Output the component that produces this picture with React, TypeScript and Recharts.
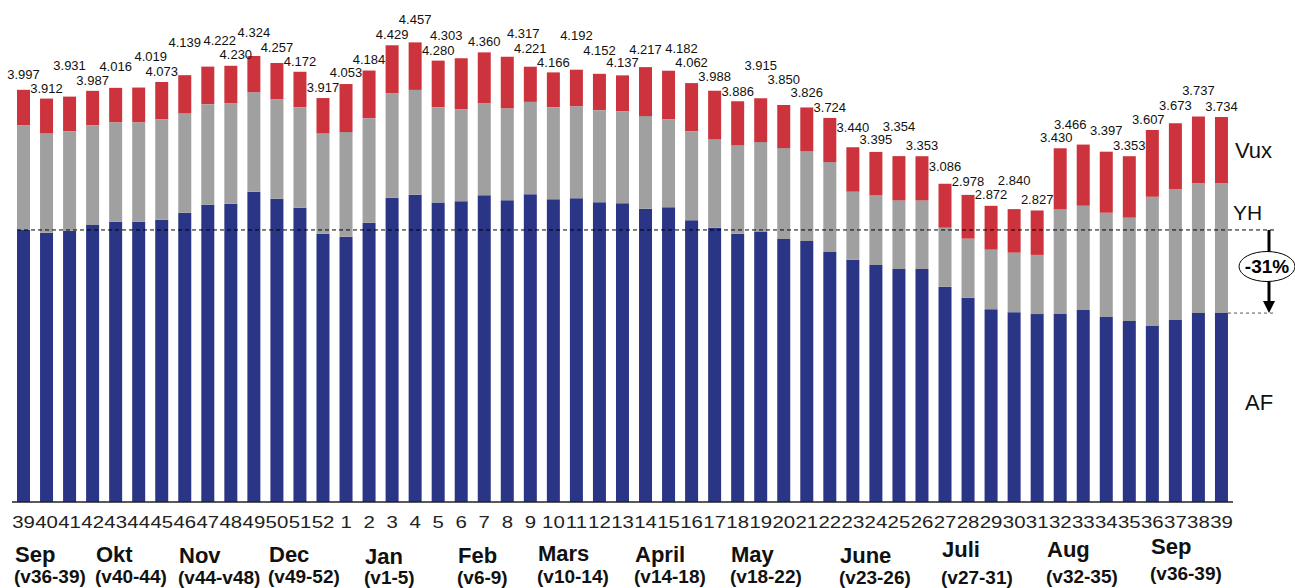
import React from "react";
import { BarChart, Bar, XAxis, YAxis, LabelList } from "recharts";

// week numbers, Sep (v39) to Sep (v39) next year
const weeks = [
  "39", "40", "41", "42", "43", "44", "45", "46", "47", "48", "49", "50", "51", "52",
  "1", "2", "3", "4", "5", "6", "7", "8", "9", "10", "11", "12", "13", "14", "15",
  "16", "17", "18", "19", "20", "21", "22", "23", "24", "25", "26", "27", "28", "29",
  "30", "31", "32", "33", "34", "35", "36", "37", "38", "39",
];

const af = [
  2.638, 2.612, 2.631, 2.686, 2.718, 2.718, 2.738, 2.805, 2.883, 2.893, 3.009, 2.941, 2.854, 2.602,
  2.573, 2.709, 2.951, 2.98, 2.904, 2.916, 2.974, 2.925, 2.984, 2.935, 2.945, 2.906, 2.896, 2.844,
  2.858, 2.732, 2.66, 2.602, 2.622, 2.551, 2.531, 2.425, 2.348, 2.299, 2.26, 2.26, 2.086, 1.98,
  1.87, 1.841, 1.822, 1.822, 1.861, 1.793, 1.754, 1.706, 1.764, 1.832, 1.832,
];

const yh = [
  1.016, 0.965, 0.965, 0.968, 0.965, 0.965, 0.974, 0.966, 0.975, 0.974, 0.965, 0.965, 0.975, 0.975,
  1.014, 1.013, 1.013, 1.016, 0.925, 0.893, 0.893, 0.894, 0.896, 0.894, 0.893, 0.894, 0.894, 0.898,
  0.854, 0.864, 0.859, 0.859, 0.868, 0.881, 0.872, 0.871, 0.661, 0.675, 0.665, 0.665, 0.574, 0.574,
  0.577, 0.577, 0.574, 1.016, 1.012, 1.012, 1.003, 1.254, 1.268, 1.258, 1.258,
];

const vux = [
  0.343, 0.335, 0.335, 0.333, 0.333, 0.336, 0.361, 0.368, 0.364, 0.363, 0.35, 0.351, 0.343, 0.34,
  0.466, 0.462, 0.465, 0.461, 0.451, 0.494, 0.493, 0.498, 0.341, 0.337, 0.354, 0.352, 0.347, 0.475,
  0.47, 0.466, 0.469, 0.425, 0.425, 0.418, 0.423, 0.428, 0.431, 0.421, 0.429, 0.428, 0.426, 0.424,
  0.425, 0.422, 0.431, 0.592, 0.593, 0.592, 0.596, 0.647, 0.641, 0.647, 0.644,
];

const totals = [
  3.997, 3.912, 3.931, 3.987, 4.016, 4.019, 4.073, 4.139, 4.222, 4.23, 4.324, 4.257, 4.172, 3.917,
  4.053, 4.184, 4.429, 4.457, 4.28, 4.303, 4.36, 4.317, 4.221, 4.166, 4.192, 4.152, 4.137, 4.217,
  4.182, 4.062, 3.988, 3.886, 3.915, 3.85, 3.826, 3.724, 3.44, 3.395, 3.354, 3.353, 3.086, 2.978,
  2.872, 2.84, 2.827, 3.43, 3.466, 3.397, 3.353, 3.607, 3.673, 3.737, 3.734,
];

const months = ["Sep", "Okt", "Nov", "Dec", "Jan", "Feb", "Mars", "April", "May", "June", "Juli", "Aug", "Sep"];
const monthWeeks = [
  "(v36-39)", "(v40-44)", "(v44-v48)", "(v49-52)", "(v1-5)", "(v6-9)", "(v10-14)",
  "(v14-18)", "(v18-22)", "(v23-26)", "(v27-31)", "(v32-35)", "(v36-39)",
];

// layout only
const labelRaise = [
  16, 10.7, 31, 10.7, 22, 31, 11, 33, 26, 11.7, 24, 15.7, 10.7, 10.3, 11.3, 11.7, 11.3, 23.3,
  10.3, 23.3, 10.7, 24, 18.7, 10.3, 34.7, 23.3, 13, 18, 22, 20.7, 14.3, 10.3, 33.3, 25.7, 15.3,
  10.3, 20.3, 12.3, 30, 11, 17.3, 13.7, 11.3, 28.7, 11.3, 11.3, 20.7, 21.3, 11, 11, 18, 26, 10.7,
];
const labelShift: Record<number, number> = { 5: 12, 8: 12, 9: 5, 19: -15, 21: 16, 28: 13, 45: -4, 46: -13, 49: -4 };
const monthX = [15, 96, 179, 269, 365, 458, 538, 635, 731, 840, 942, 1047, 1151];
const monthY = [562, 562, 563, 562, 564, 563, 561, 562, 562, 563, 557, 557, 554];
const monthSubY = [583, 583, 584, 583, 584, 584, 583, 583, 583, 584, 584, 583, 580];

const W = 1295;
const H = 588;
const MARGIN = { top: 7, right: 62, bottom: 6, left: 12 };
const X_AXIS_H = 80;
const Y_MAX = 4.8;
const PLOT_TOP = MARGIN.top;
const PLOT_BOTTOM = H - MARGIN.bottom - X_AXIS_H;
const BAR = 13;
const BAND = (W - MARGIN.left - MARGIN.right) / weeks.length;

const BLUE = "#2a3586";
const GRAY = "#a0a0a0";
const RED = "#cc333c";
const FONT = "'Liberation Sans', Arial, sans-serif";

const yPix = (v: number) => PLOT_BOTTOM - (v / Y_MAX) * (PLOT_BOTTOM - PLOT_TOP);
const xCenter = (i: number) => MARGIN.left + (i + 0.5) * BAND;

const data = weeks.map((week, i) => ({ week, af: af[i], yh: yh[i], vux: vux[i] }));

const WeekTick = ({ x, payload }: any) => (
  <text
    x={0}
    y={0}
    transform={`translate(${x},${PLOT_BOTTOM + 26}) scale(1.2,1)`}
    textAnchor="middle"
    fontSize={17}
    fill="#222"
    fontFamily={FONT}
  >
    {payload.value}
  </text>
);

const TotalLabel = (props: any) => {
  const { x, y, width, index } = props;
  const cx = Number(x) + Number(width) / 2 + (labelShift[index] || 0);
  const cy = Number(y) - labelRaise[index];
  return (
    <text x={cx} y={cy + 4.7} textAnchor="middle" fontSize={13} fill="#111" fontFamily={FONT}>
      {totals[index].toFixed(3)}
    </text>
  );
};

export default function App() {
  const last = af.length - 1;
  const upperY = yPix(af[0]);
  const lowerY = yPix(af[last]);
  const change = Math.round((af[last] / af[0] - 1) * 100);
  const arrowX = 1269;

  return (
    <div style={{ position: "absolute", left: 0, top: 0, width: W, height: H, background: "#fff", fontFamily: FONT }}>
      <BarChart width={W} height={H} data={data} margin={MARGIN} barSize={BAR}>
        <XAxis
          dataKey="week"
          interval={0}
          height={X_AXIS_H}
          tickLine={false}
          axisLine={{ stroke: "#222", strokeWidth: 1.5 }}
          tick={<WeekTick />}
        />
        <YAxis hide domain={[0, Y_MAX]} allowDataOverflow />
        <Bar dataKey="af" stackId="s" fill={BLUE} isAnimationActive={false} />
        <Bar dataKey="yh" stackId="s" fill={GRAY} isAnimationActive={false} />
        <Bar dataKey="vux" stackId="s" fill={RED} isAnimationActive={false}>
          <LabelList dataKey="vux" content={<TotalLabel />} />
        </Bar>
      </BarChart>

      <svg width={W} height={H} style={{ position: "absolute", left: 0, top: 0, pointerEvents: "none" }}>
        <line x1={xCenter(0) - BAR / 2} x2={1276} y1={upperY} y2={upperY} stroke="#000" strokeDasharray="4 3" />
        <line x1={xCenter(last) + BAR / 2} x2={1276} y1={lowerY} y2={lowerY} stroke="#555" strokeDasharray="3 3" />

        <line x1={arrowX} x2={arrowX} y1={upperY} y2={lowerY - 10} stroke="#000" strokeWidth={3} />
        <polygon
          points={`${arrowX - 6},${lowerY - 12} ${arrowX + 6},${lowerY - 12} ${arrowX},${lowerY}`}
          fill="#000"
        />
        <ellipse cx={1267} cy={(upperY + lowerY) / 2 - 5} rx={28} ry={15} fill="#fff" stroke="#000" />
        <text
          x={1267}
          y={(upperY + lowerY) / 2 + 1.5}
          textAnchor="middle"
          fontSize={19}
          fontWeight="bold"
          fill="#000"
        >
          {`${change}%`}
        </text>

        <text x={1235} y={158} fontSize={22} fill="#111">Vux</text>
        <text x={1233} y={220} fontSize={21} fill="#111">YH</text>
        <text x={1245} y={410} fontSize={22} fill="#111">AF</text>

        {months.map((m, i) => (
          <g key={i}>
            <text x={monthX[i]} y={monthY[i]} fontSize={22} fontWeight="bold" fill="#111">
              {m}
            </text>
            <text x={monthX[i] - 1} y={monthSubY[i]} fontSize={19} fontWeight="bold" fill="#111">
              {monthWeeks[i]}
            </text>
          </g>
        ))}
      </svg>
    </div>
  );
}
